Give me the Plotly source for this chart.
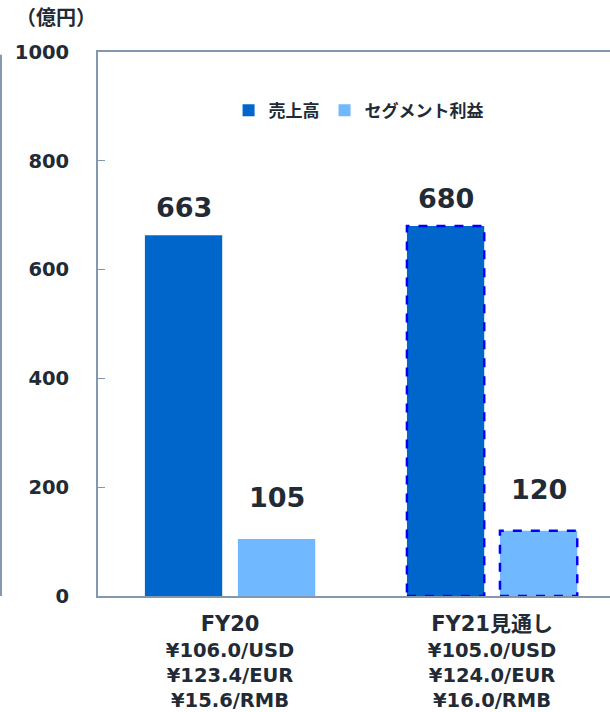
import plotly.graph_objects as go

categories = ["FY20", "FY21見通し"]
rate_lines = [
    ["¥106.0/USD", "¥123.4/EUR", "¥15.6/RMB"],
    ["¥105.0/USD", "¥124.0/EUR", "¥16.0/RMB"],
]
sales = [663, 680]
segment_profit = [105, 120]
forecast = [False, True]
series_names = ["売上高", "セグメント利益"]
y_ticks = [0, 200, 400, 600, 800, 1000]

FONT = "DejaVu Sans, Noto Sans CJK JP, sans-serif"
CJK = "Noto Sans CJK JP, sans-serif"
TEXT = "#222a35"
AX = "#8497b0"
C1 = "#0066cc"
C2 = "#70b8ff"

xs = list(range(len(categories)))
W = 0.295
OFF = [-0.325, 0.03]
LABEL_SHIFT = [10, 24]

fig = go.Figure()
for vals, name, col, off in [(sales, series_names[0], C1, OFF[0]),
                             (segment_profit, series_names[1], C2, OFF[1])]:
    fig.add_trace(go.Bar(x=xs, y=vals, name=f"<b>{name}</b>", marker=dict(color=col, line=dict(width=0)),
                         width=W, offset=off))

shapes = []
annotations = []
for i, x in enumerate(xs):
    for vals, off, sh in [(sales, OFF[0], LABEL_SHIFT[0]), (segment_profit, OFF[1], LABEL_SHIFT[1])]:
        annotations.append(dict(x=x + off + W / 2, y=vals[i], xref="x", yref="y",
                                text=f"<b>{vals[i]}</b>", showarrow=False, yanchor="bottom",
                                yshift=sh, font=dict(size=27, color=TEXT, family=FONT)))
        if forecast[i]:
            shapes.append(dict(type="rect", xref="x", yref="y", x0=x + off, x1=x + off + W,
                               y0=0, y1=vals[i], line=dict(color="#0000ff", width=2.5, dash="dash"),
                               fillcolor="rgba(0,0,0,0)", layer="above"))

shapes.append(dict(type="line", xref="paper", yref="paper", x0=-0.1895, x1=-0.1895,
                   y0=0, y1=0.995, line=dict(color=AX, width=2)))

annotations.append(dict(x=0.0, y=1.035, xref="paper", yref="paper", text="<b>（億円）</b>",
                        showarrow=False, xanchor="right", yanchor="bottom",
                        font=dict(size=20, color=TEXT, family=CJK)))

ticktext = []
for c, r in zip(categories, rate_lines):
    ticktext.append(f"<b><span style='font-size:21px'>{c}</span><br>" + "<br>".join(r) + "</b>")

fig.update_layout(
    width=610, height=712,
    margin=dict(l=98, r=0, t=52, b=116, autoexpand=False),
    plot_bgcolor="white", paper_bgcolor="white",
    barmode="group",
    showlegend=True,
    legend=dict(orientation="h", x=0.255, y=0.925, xanchor="left", yanchor="top",
                font=dict(size=17, color=TEXT, family=FONT), bgcolor="rgba(0,0,0,0)",
                itemwidth=30, traceorder="normal"),
    shapes=shapes,
    annotations=annotations,
    xaxis=dict(range=[-0.504, 1.45], tickvals=xs, ticktext=ticktext, showgrid=False,
               showline=True, linecolor=AX, linewidth=2, mirror=True, ticks="",
               tickfont=dict(size=19.5, color=TEXT, family=FONT), zeroline=False,
               automargin=False, ticklabelstandoff=10),
    yaxis=dict(range=[0, 1000], tickvals=y_ticks, ticktext=[f"<b>{v}</b>" for v in y_ticks],
               showgrid=False, showline=True, linecolor=AX, linewidth=2, ticks="inside",
               ticklen=7, tickcolor=AX, tickwidth=1, zeroline=False, automargin=False,
               tickfont=dict(size=19.5, color=TEXT, family=FONT), ticklabelstandoff=23),
)

fig.write_html("out.html", config={"displayModeBar": False},
               post_script="document.body.style.margin='0';")
